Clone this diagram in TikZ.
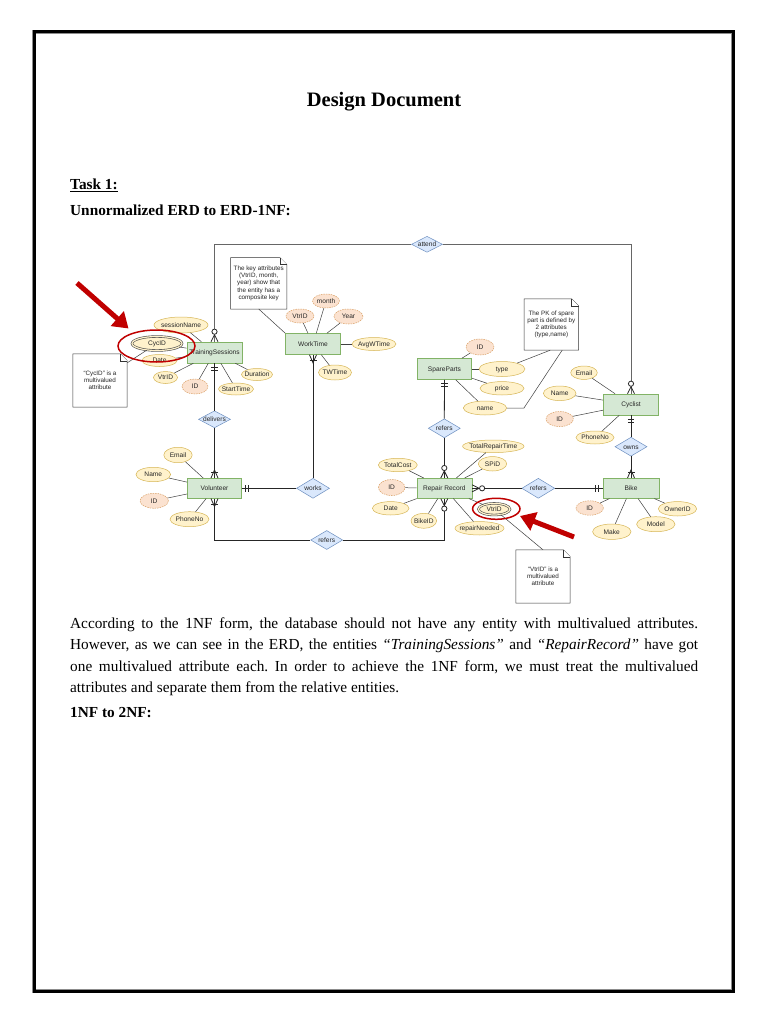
\documentclass[tikz,border=0pt]{standalone}
\usepackage{fontspec}
\setmainfont{Liberation Serif}
\newfontfamily\erdfont{Liberation Sans}
\usetikzlibrary{shapes.geometric,arrows.meta,calc}
\frenchspacing
\definecolor{entfill}{HTML}{D5E8D4}
\definecolor{entdraw}{HTML}{82B366}
\definecolor{attfill}{HTML}{FFF2CC}
\definecolor{attdraw}{HTML}{D6B656}
\definecolor{keyfill}{HTML}{FBE2D0}
\definecolor{keydraw}{HTML}{D9A066}
\definecolor{relfill}{HTML}{DAE8FC}
\definecolor{reldraw}{HTML}{6C8EBF}
\definecolor{hilite}{HTML}{C00000}
\definecolor{lnk}{HTML}{404040}
\newcommand\ertxt[1]{\makebox[0pt]{#1}}
\newcommand\mkzm[2]{%
  \begin{scope}[shift={(#1)},rotate=#2]
    \draw[conn] (0,3.5) -- (7,0) -- (0,-3.5);
    \draw[conn,fill=white] (10,0) circle (2.6);
  \end{scope}}
\newcommand\mkom[2]{%
  \begin{scope}[shift={(#1)},rotate=#2]
    \draw[conn] (0,3.5) -- (8,0) -- (0,-3.5);
    \draw[conn] (6,3.5) -- (6,-3.5);
  \end{scope}}
\newcommand\mkoo[2]{%
  \begin{scope}[shift={(#1)},rotate=#2]
    \draw[conn] (4,3.2) -- (4,-3.2);
    \draw[conn] (7,3.2) -- (7,-3.2);
  \end{scope}}
\tikzset{
  erdf/.style={font=\erdfont\fontsize{6.6}{7.5}\selectfont, text=black!85},
  ent/.style={rectangle, draw=entdraw, fill=entfill, inner sep=0pt, text height=4.7pt, text depth=0pt, erdf, line width=0.6pt},
  att/.style={ellipse, draw=attdraw, fill=attfill, inner sep=0pt, text height=4.7pt, text depth=0pt, erdf, line width=0.5pt},
  key/.style={att, draw=keydraw, fill=keyfill, dash pattern=on 1.5pt off 1pt},
  mv/.style={att, draw=black!70, double=attfill, double distance=1.2pt, line width=0.6pt},
  rel/.style={diamond, draw=reldraw, fill=relfill, inner sep=0pt, text height=4.7pt, text depth=0pt, erdf, line width=0.5pt},
  conn/.style={draw=black!85, line width=0.8pt},
  alink/.style={draw=lnk, line width=0.5pt},
  notebox/.style={inner sep=0pt, align=center, font=\erdfont\fontsize{6.3}{7.2}\selectfont, text=black!85},
  notedraw/.style={draw=black!80, fill=white, line width=0.5pt},
  redring/.style={ellipse, draw=hilite, line width=1.5pt, inner sep=0pt},
  redarrow/.style={draw=hilite, line width=5pt, -{Triangle[length=15pt,width=19pt]}},
  bodytext/.style={anchor=base west, inner sep=0pt, font=\fontsize{15.3}{21}\selectfont},
  headtext/.style={anchor=base west, inner sep=0pt, font=\bfseries\fontsize{15.3}{18}\selectfont}
}
\begin{document}
\begin{tikzpicture}[x=1pt,y=-1pt]
\useasboundingbox (0,0) rectangle (768,1024);
\fill[white] (0,0) rectangle (768,1024);
% page frame
\draw[line width=4.5pt, black!45] (34,32) rectangle (733,991);
\draw[line width=3pt, black] (34,32) rectangle (733,991);

% headings
\node[anchor=base, inner sep=0pt, font=\bfseries\fontsize{20.5}{24}\selectfont] (title) at (384,106.5) {Design Document};
\node[headtext] (task) at (70,190) {\underline{Task 1:}};
\node[headtext] (sub) at (70,216) {Unnormalized ERD to ERD-1NF:};

% ---------- notes (drawn as folded sheets) ----------
\newcommand\notesheet[1]{%
  \draw[notedraw] (#1.north west) -- ($(#1.north east)+(-7,0)$) -- ($(#1.north east)+(0,7)$) -- (#1.south east) -- (#1.south west) -- cycle;
  \draw[notedraw] ($(#1.north east)+(-7,0)$) -- ($(#1.north east)+(-7,7)$) -- ($(#1.north east)+(0,7)$);}
\node[notebox, minimum width=54pt, minimum height=53pt] (n1) at (100,380.5) {};
\notesheet{n1}
\node[notebox] at (n1) {“CycID” is a\\multivalued\\attribute};
\node[notebox, minimum width=56pt, minimum height=51pt] (n2) at (258.7,283.3) {};
\notesheet{n2}
\node[notebox] at (n2) {The key attributes\\(VtrID, month,\\year) show that\\the entity has a\\composite key};
\node[notebox, minimum width=54pt, minimum height=51pt] (n3) at (551.3,324.5) {};
\notesheet{n3}
\node[notebox] at (n3) {The PK of spare\\part is defined by\\2 attributes\\(type,name)};
\node[notebox, minimum width=54pt, minimum height=53pt] (n4) at (543,576.5) {};
\notesheet{n4}
\node[notebox] at (n4) {“VtrID” is a\\multivalued\\attribute};

% ---------- entities ----------
\node[ent, minimum width=55pt, minimum height=21pt] (ts) at (214.5,352.5) {\ertxt{TrainingSessions}};
\node[ent, minimum width=55pt, minimum height=21pt] (wt) at (313,344) {\ertxt{WorkTime}};
\node[ent, minimum width=54pt, minimum height=21pt] (sp) at (444.5,369) {\ertxt{SpareParts}};
\node[ent, minimum width=55pt, minimum height=21pt] (cyc) at (631,404.5) {\ertxt{Cyclist}};
\node[ent, minimum width=54pt, minimum height=20pt] (vol) at (214.5,488.3) {\ertxt{Volunteer}};
\node[ent, minimum width=55pt, minimum height=20pt] (rr) at (444.3,488.3) {\ertxt{Repair Record}};
\node[ent, minimum width=56pt, minimum height=20pt] (bike) at (631,488.3) {\ertxt{Bike}};

% ---------- relationships ----------
\node[rel, minimum width=31pt, minimum height=16pt] (attend) at (427,244.3) {\ertxt{attend}};
\node[rel, minimum width=32pt, minimum height=17pt] (delivers) at (214.5,419.3) {\ertxt{delivers}};
\node[rel, minimum width=33pt, minimum height=20pt] (works) at (313,488.3) {\ertxt{works}};
\node[rel, minimum width=32pt, minimum height=19pt] (refb) at (326.7,540) {\ertxt{refers}};
\node[rel, minimum width=32pt, minimum height=19pt] (refs) at (444.3,428.3) {\ertxt{refers}};
\node[rel, minimum width=33pt, minimum height=20pt] (refr) at (538.3,488.3) {\ertxt{refers}};
\node[rel, minimum width=32pt, minimum height=19pt] (owns) at (631,446.7) {\ertxt{owns}};

% ---------- attributes: TrainingSessions ----------
\node[att, minimum width=54pt, minimum height=16pt] (tsname) at (181,325) {\ertxt{sessionName}};
\node[mv, minimum width=50pt, minimum height=14pt] (tscyc) at (157,343.5) {\ertxt{CycID}};
\node[att, minimum width=35pt, minimum height=12pt] (tsdate) at (159.5,360.5) {\ertxt{Date}};
\node[att, minimum width=24pt, minimum height=12pt] (tsvtr) at (165.5,377.5) {\ertxt{VtrID}};
\node[key, minimum width=26pt, minimum height=15pt] (tsid) at (195,386.5) {\ertxt{ID}};
\node[att, minimum width=35pt, minimum height=12pt] (tsstart) at (236,389) {\ertxt{StartTime}};
\node[att, minimum width=31pt, minimum height=12pt] (tsdur) at (257,374.5) {\ertxt{Duration}};
% WorkTime
\node[key, minimum width=28pt, minimum height=14pt] (wtvtr) at (300,316) {\ertxt{VtrID}};
\node[key, minimum width=27pt, minimum height=14pt] (wtmonth) at (326,301) {\ertxt{month}};
\node[key, minimum width=29pt, minimum height=15pt] (wtyear) at (348.5,316.5) {\ertxt{Year}};
\node[att, minimum width=44pt, minimum height=13pt] (wtavg) at (374,344) {\ertxt{AvgWTime}};
\node[att, minimum width=33pt, minimum height=15pt] (wttw) at (335,372.5) {\ertxt{TWTime}};
% SpareParts
\node[key, minimum width=28pt, minimum height=16pt] (spid) at (480,347) {\ertxt{ID}};
\node[att, minimum width=46pt, minimum height=15pt] (sptype) at (502,369) {\ertxt{type}};
\node[att, minimum width=44pt, minimum height=13.4pt] (spprice) at (502,388.3) {\ertxt{price}};
\node[att, minimum width=43.4pt, minimum height=14pt] (spname) at (485,408) {\ertxt{name}};
% Cyclist
\node[att, minimum width=26.6pt, minimum height=13.4pt] (cyemail) at (584,372.7) {\ertxt{Email}};
\node[att, minimum width=32.6pt, minimum height=14.6pt] (cyname) at (559.7,393.3) {\ertxt{Name}};
\node[key, minimum width=27.4pt, minimum height=15pt] (cyid) at (559.7,419) {\ertxt{ID}};
\node[att, minimum width=38pt, minimum height=13pt] (cyphone) at (595,437.5) {\ertxt{PhoneNo}};
% Bike
\node[key, minimum width=27.4pt, minimum height=14.4pt] (bkid) at (589.7,508) {\ertxt{ID}};
\node[att, minimum width=38.4pt, minimum height=15.4pt] (bkmake) at (611.8,531.7) {\ertxt{Make}};
\node[att, minimum width=38.4pt, minimum height=15pt] (bkmodel) at (655.8,524.2) {\ertxt{Model}};
\node[att, minimum width=38.4pt, minimum height=14.4pt] (bkowner) at (677.5,508.8) {\ertxt{OwnerID}};
% Volunteer
\node[att, minimum width=28.4pt, minimum height=15.4pt] (voemail) at (178,455) {\ertxt{Email}};
\node[att, minimum width=34.6pt, minimum height=14.4pt] (voname) at (153.3,474.5) {\ertxt{Name}};
\node[key, minimum width=28.4pt, minimum height=15pt] (void) at (154.2,500.8) {\ertxt{ID}};
\node[att, minimum width=39pt, minimum height=15pt] (vophone) at (189.5,519.2) {\ertxt{PhoneNo}};
% Repair Record
\node[att, minimum width=61.4pt, minimum height=12.6pt] (rrtrt) at (493.3,446.3) {\ertxt{TotalRepairTime}};
\node[att, minimum width=28.4pt, minimum height=14.4pt] (rrspid) at (492.5,463.8) {\ertxt{SPiD}};
\node[att, minimum width=39pt, minimum height=13.4pt] (rrcost) at (397.8,465) {\ertxt{TotalCost}};
\node[key, minimum width=26.6pt, minimum height=16pt] (rrid) at (391.7,487.5) {\ertxt{ID}};
\node[att, minimum width=36.6pt, minimum height=13.4pt] (rrdate) at (390.7,508.3) {\ertxt{Date}};
\node[att, minimum width=25.6pt, minimum height=15pt] (rrbike) at (423.8,520.8) {\ertxt{BikeID}};
\node[att, minimum width=49pt, minimum height=13.4pt] (rrneed) at (479.5,528.3) {\ertxt{repairNeeded}};
\node[mv, minimum width=31.6pt, minimum height=11.6pt] (rrvtr) at (494.2,509.2) {\ertxt{VtrID}};

% ---------- attribute links ----------
\foreach \a in {tsname,tscyc,tsdate,tsvtr,tsid,tsstart,tsdur} \draw[alink] (\a) -- (ts);
\foreach \a in {wtvtr,wtmonth,wtyear,wtavg,wttw} \draw[alink] (\a) -- (wt);
\foreach \a in {spid,sptype,spprice,spname} \draw[alink] (\a) -- (sp);
\foreach \a in {cyemail,cyname,cyid,cyphone} \draw[alink] (\a) -- (cyc);
\foreach \a in {bkid,bkmake,bkmodel,bkowner} \draw[alink] (\a) -- (bike);
\foreach \a in {voemail,voname,void,vophone} \draw[alink] (\a) -- (vol);
\foreach \a in {rrtrt,rrspid,rrcost,rrid,rrdate,rrbike,rrneed,rrvtr} \draw[alink] (\a) -- (rr);

% note links
\draw[alink] (n1) -- (tscyc);
\draw[alink] (n2.south) -- (wt.north west);
\draw[alink] ($(n3.south west)!0.48!(n3.south east)$) -- (sptype);
\draw[alink] ($(n3.south west)!0.7!(n3.south east)$) -- ($(spname.east)+(17,0)$) -- (spname.east);
\draw[alink] (n4.north) -- (rrvtr);

% ---------- relationship connectors ----------
\draw[conn, draw=black!60] (ts.north) |- (attend.west);
\draw[conn, draw=black!60] (attend.east) -| (cyc.north);
\draw[conn] (ts.south) -- (delivers.north);
\draw[conn] (delivers.south) -- (vol.north);
\draw[conn] (vol.east) -- (works.west);
\draw[conn] (works.north) -- (wt.south);
\draw[conn] (vol.south) |- (refb.west);
\draw[conn] (refb.east) -| (rr.south);
\draw[conn] (sp.south) -- (refs.north);
\draw[conn] (refs.south) -- (rr.north);
\draw[conn] (rr.east) -- (refr.west);
\draw[conn] (refr.east) -- (bike.west);
\draw[conn] (cyc.south) -- (owns.north);
\draw[conn] (owns.south) -- (bike.north);

% cardinality marks
\mkzm{ts.north}{90}
\mkoo{ts.south}{-90}
\mkom{vol.north}{90}
\mkom{vol.south}{-90}
\mkoo{vol.east}{0}
\mkom{wt.south}{-90}
\mkoo{sp.south}{-90}
\mkzm{rr.north}{90}
\mkzm{rr.south}{-90}
\mkzm{rr.east}{0}
\mkoo{bike.west}{180}
\mkom{bike.north}{90}
\mkzm{cyc.north}{90}
\mkoo{cyc.south}{-90}

% ---------- red highlights ----------
\node[redring, minimum width=77pt, minimum height=32pt] (ring1) at (156.5,346) {};
\node[redring, minimum width=47.4pt, minimum height=21pt] (ring2) at (496.3,508.8) {};
\coordinate (a1tail) at (77,283);
\coordinate (a1tip) at (128.5,328.5);
\coordinate (a2tail) at (574,537);
\coordinate (a2tip) at (520,516);
\draw[redarrow] (a1tail) -- (a1tip);
\draw[redarrow] (a2tail) -- (a2tip);

% ---------- body text ----------
\node[bodytext] (p1) at (70,628) {\makebox[628pt][s]{According to the 1NF form, the database should not have any entity with multivalued attributes.}};
\node[bodytext] (p2) at (70,649.5) {\makebox[628pt][s]{However, as we can see in the ERD, the entities \textit{``TrainingSessions''} and \textit{``RepairRecord''} have got}};
\node[bodytext] (p3) at (70,671) {\makebox[628pt][s]{one multivalued attribute each. In order to achieve the 1NF form, we must treat the multivalued}};
\node[bodytext] (p4) at (70,692.5) {attributes and separate them from the relative entities.};
\node[headtext] (sub2) at (70,717) {1NF to 2NF:};
\end{tikzpicture}
\end{document}
